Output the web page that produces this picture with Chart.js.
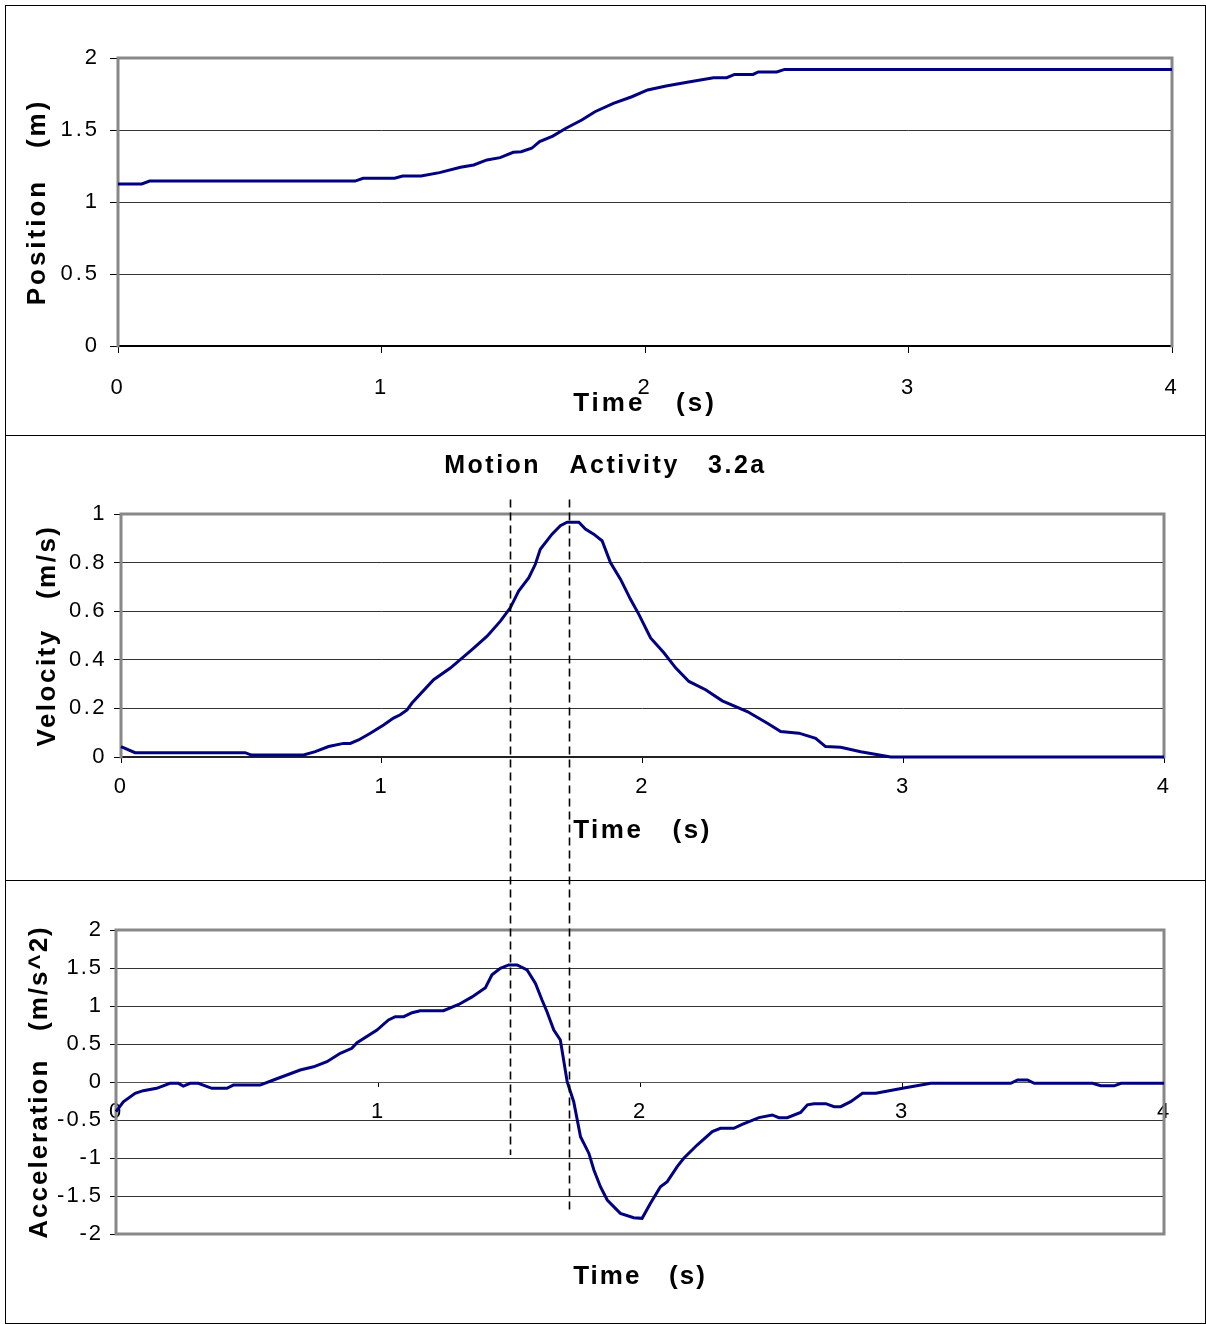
<!DOCTYPE html>
<html>
<head>
<meta charset="utf-8">
<title>Motion Activity 3.2a</title>
<script src="https://cdn.jsdelivr.net/npm/chart.js@4.4.1/dist/chart.umd.min.js"></script>
<style>
  body { margin: 0; background: #fff; }
  #page { position: relative; width: 1206px; height: 1324px; }
  .panel { position: absolute; left: 5px; width: 1201px; border: 1px solid #000; box-sizing: border-box; }
  .panel canvas { display: block; }
  #p1 { top: 5px; height: 431px; }
  #p2 { top: 435px; height: 446px; }
  #p3 { top: 880px; height: 444px; }
  #marks { position: absolute; left: 0; top: 0; pointer-events: none; }
</style>
</head>
<body>
<div id="page">
  <div class="panel" id="p1"><canvas id="positionChart" width="1199" height="429"></canvas></div>
  <div class="panel" id="p2"><canvas id="velocityChart" width="1199" height="444"></canvas></div>
  <div class="panel" id="p3"><canvas id="accelChart" width="1199" height="442"></canvas></div>
  <canvas id="marks" width="1206" height="1324"></canvas>
</div>
<script>
// position (m) against time (s)
const posTime = [0, 0.09, 0.12, 0.90, 0.93, 1.05, 1.08, 1.15, 1.22, 1.30, 1.35, 1.40, 1.45, 1.50, 1.53, 1.57,
    1.60, 1.65, 1.70, 1.76, 1.81, 1.88, 1.95, 2.01, 2.08, 2.16, 2.26, 2.31, 2.34, 2.41, 2.43, 2.50, 2.53, 4.00];
const posValue = [1.125, 1.125, 1.145, 1.145, 1.165, 1.165, 1.18, 1.18, 1.204, 1.241, 1.257, 1.292, 1.308, 1.345, 1.349, 1.373,
    1.419, 1.458, 1.512, 1.569, 1.627, 1.685, 1.731, 1.778, 1.806, 1.831, 1.863, 1.863, 1.886, 1.886, 1.903, 1.903, 1.921, 1.921];

// velocity (m/s)
const velTime = [0, 0.054, 0.476, 0.50, 0.70, 0.745, 0.796, 0.853, 0.879, 0.911, 0.956, 1.007, 1.045, 1.071, 1.097,
    1.116, 1.199, 1.263, 1.346, 1.404, 1.455, 1.493, 1.525, 1.564, 1.589, 1.608, 1.653, 1.685, 1.711, 1.756,
    1.781, 1.813, 1.845, 1.877, 1.916, 1.954, 1.986, 2.031, 2.082, 2.127, 2.178, 2.242, 2.306, 2.402, 2.479,
    2.530, 2.600, 2.664, 2.702, 2.760, 2.837, 2.952, 4.0];
const velValue = [0.043, 0.018, 0.018, 0.008, 0.008, 0.022, 0.043, 0.056, 0.056, 0.07, 0.098, 0.132, 0.16, 0.174, 0.194,
    0.222, 0.318, 0.366, 0.442, 0.497, 0.559, 0.614, 0.683, 0.738, 0.793, 0.855, 0.917, 0.952, 0.966, 0.966,
    0.938, 0.917, 0.89, 0.80, 0.731, 0.649, 0.587, 0.49, 0.429, 0.367, 0.311, 0.277, 0.231, 0.187, 0.139,
    0.105, 0.098, 0.077, 0.043, 0.04, 0.022, 0, 0];

// acceleration (m/s^2)
const accTime = [0, 0.028, 0.073, 0.104, 0.155, 0.206, 0.238, 0.257, 0.283, 0.314, 0.366, 0.423, 0.448, 0.55, 0.601,
    0.703, 0.754, 0.805, 0.856, 0.9, 0.92, 0.996, 1.04, 1.066, 1.098, 1.13, 1.161, 1.25, 1.308, 1.359,
    1.41, 1.435, 1.467, 1.499, 1.531, 1.569, 1.601, 1.626, 1.645, 1.671, 1.696, 1.722, 1.747, 1.773, 1.805,
    1.824, 1.849, 1.875, 1.925, 1.976, 2.008, 2.04, 2.078, 2.104, 2.142, 2.167, 2.218, 2.276, 2.307, 2.358,
    2.39, 2.454, 2.505, 2.53, 2.562, 2.613, 2.639, 2.664, 2.709, 2.741, 2.766, 2.804, 2.849, 2.9, 3.002,
    3.11, 3.415, 3.441, 3.479, 3.505, 3.727, 3.759, 3.81, 3.836, 4.0];
const accValue = [-0.39, -0.26, -0.149, -0.114, -0.083, -0.018, -0.018, -0.053, -0.018, -0.018, -0.083, -0.083, -0.04, -0.04, 0.026,
    0.158, 0.2, 0.267, 0.378, 0.443, 0.518, 0.684, 0.816, 0.86, 0.86, 0.912, 0.938, 0.938, 1.02, 1.12,
    1.24, 1.41, 1.496, 1.54, 1.54, 1.474, 1.298, 1.079, 0.925, 0.684, 0.553, 0.004, -0.259, -0.72, -0.94,
    -1.158, -1.378, -1.553, -1.728, -1.785, -1.794, -1.596, -1.378, -1.311, -1.114, -1.004, -0.829, -0.653, -0.61, -0.61,
    -0.557, -0.469, -0.434, -0.469, -0.469, -0.4, -0.30, -0.285, -0.285, -0.325, -0.325, -0.259, -0.149, -0.149, -0.083,
    -0.018, -0.018, 0.026, 0.026, -0.018, -0.018, -0.05, -0.05, -0.018, -0.018];

// dashed markers: times, where they start (velocity) and stop (acceleration)
const markTimes = [1.49, 1.72];
const markStart = 1.06;
const markEnds = [-0.96, -1.72];

const NAVY = '#000080';

Chart.defaults.font.family = '"Liberation Sans", Arial, sans-serif';
Chart.defaults.font.size = 22;
Chart.defaults.color = '#000';

const toPoints = (xs, ys) => xs.map((x, i) => ({x: x, y: ys[i]}));

// "1" and "0.5" rather than "1.0" and "0.50"
const plainNumber = (v) => String(Number(v.toFixed(2)));

// canvas letter spacing, the old spreadsheet text is spaced out
const textSpacing = {
    id: 'textSpacing',
    beforeDraw(chart, args, opts) {
        chart.ctx.letterSpacing = (opts.px || 0) + 'px';
    }
};

// grey frame round the plot area
const plotFrame = {
    id: 'plotFrame',
    beforeDatasetsDraw(chart, args, opts) {
        const {ctx, chartArea: a} = chart;
        const sides = opts.sides || 'tlr';
        ctx.save();
        ctx.strokeStyle = opts.color || '#888';
        ctx.lineWidth = opts.width || 3;
        ctx.lineCap = 'square';
        ctx.beginPath();
        if (sides.includes('t')) { ctx.moveTo(a.left, a.top); ctx.lineTo(a.right, a.top); }
        if (sides.includes('r')) { ctx.moveTo(a.right, a.top); ctx.lineTo(a.right, a.bottom); }
        if (sides.includes('l')) { ctx.moveTo(a.left, a.top); ctx.lineTo(a.left, a.bottom); }
        if (sides.includes('b')) { ctx.moveTo(a.left, a.bottom); ctx.lineTo(a.right, a.bottom); }
        ctx.stroke();
        ctx.restore();
    }
};

const titleFont = {size: 26, weight: 'bold'};

function lineSet(xs, ys, width) {
    return {
        data: toPoints(xs, ys),
        borderColor: NAVY,
        borderWidth: width,
        pointRadius: 0,
        tension: 0,
        clip: 4
    };
}

const positionChart = new Chart(document.getElementById('positionChart'), {
    type: 'line',
    data: {datasets: [lineSet(posTime, posValue, 3)]},
    options: {
        responsive: false,
        animation: false,
        events: [],
        layout: {padding: {top: 52, right: 33, left: 0, bottom: 0}},
        plugins: {
            legend: {display: false},
            tooltip: {enabled: false},
            textSpacing: {px: 3},
            plotFrame: {sides: 'tlr', color: '#888', width: 3}
        },
        scales: {
            x: {
                type: 'linear', min: 0, max: 4,
                afterFit: (s) => { s.height = 89; },
                ticks: {stepSize: 1, padding: 22, maxRotation: 0, callback: plainNumber},
                grid: {drawOnChartArea: false, tickLength: 7, tickColor: '#000'},
                border: {color: '#000', width: 2},
                title: {display: true, text: 'Time   (s)', font: titleFont, color: '#000', padding: {top: 0, bottom: 16}}
            },
            y: {
                min: 0, max: 2,
                afterFit: (s) => { s.width = 112; },
                ticks: {stepSize: 0.5, padding: 10, callback: plainNumber},
                grid: {color: '#333', tickLength: 8, tickColor: '#000'},
                border: {display: false},
                title: {display: true, text: 'Position   (m)', font: titleFont, color: '#000', padding: {top: 16, bottom: 0}}
            }
        }
    },
    plugins: [textSpacing, plotFrame]
});

const velocityChart = new Chart(document.getElementById('velocityChart'), {
    type: 'line',
    data: {datasets: [lineSet(velTime, velValue, 3)]},
    options: {
        responsive: false,
        animation: false,
        events: [],
        layout: {padding: {top: 0, right: 0, left: 0, bottom: 0}},
        plugins: {
            legend: {display: false},
            tooltip: {enabled: false},
            title: {display: true, text: 'Motion   Activity   3.2a', font: {size: 25, weight: 'bold'}, color: '#000', padding: {top: 15, bottom: 33}},
            textSpacing: {px: 2.5},
            plotFrame: {sides: 'tlr', color: '#888', width: 3}
        },
        scales: {
            x: {
                type: 'linear', min: 0, max: 4,
                afterFit: (s) => { s.height = 123; },
                ticks: {stepSize: 1, padding: 11, maxRotation: 0, callback: plainNumber},
                grid: {drawOnChartArea: false, tickLength: 6, tickColor: '#000'},
                border: {color: '#222', width: 2},
                title: {display: true, text: 'Time   (s)', font: titleFont, color: '#000', padding: {top: 0, bottom: 34}}
            },
            y: {
                min: 0, max: 1,
                afterFit: (s) => { s.width = 115; },
                ticks: {stepSize: 0.2, padding: 7, callback: plainNumber},
                grid: {color: '#333', tickLength: 7, tickColor: '#000'},
                border: {display: false},
                title: {display: true, text: 'Velocity   (m/s)', font: titleFont, color: '#000', padding: {top: 26, bottom: 0}}
            },
            // empty right-hand margin, keeps the chart title centred on the panel
            gutter: {
                type: 'linear', position: 'right', min: 0, max: 1,
                afterFit: (s) => { s.width = 41; },
                ticks: {display: false},
                grid: {display: false},
                border: {display: false}
            }
        }
    },
    plugins: [textSpacing, plotFrame]
});

const accelChart = new Chart(document.getElementById('accelChart'), {
    type: 'line',
    data: {datasets: [lineSet(accTime, accValue, 3)]},
    options: {
        responsive: false,
        animation: false,
        events: [],
        layout: {padding: {top: 49, right: 41, left: 0, bottom: 89}},
        plugins: {
            legend: {display: false},
            tooltip: {enabled: false},
            textSpacing: {px: 2},
            plotFrame: {sides: 'tlrb', color: '#888', width: 3}
        },
        scales: {
            x: {
                type: 'linear', min: 0, max: 4,
                position: {y: 0},
                // axis sits on the zero line; its height sets where the title lands
                afterFit: (s) => { s.height = 210; },
                ticks: {stepSize: 1, padding: 13, maxRotation: 0, callback: plainNumber},
                grid: {drawOnChartArea: false, tickLength: 4, tickColor: '#000'},
                border: {color: '#555', width: 1},
                title: {display: true, text: 'Time   (s)', font: titleFont, color: '#000', padding: {top: 0, bottom: 0}}
            },
            y: {
                min: -2, max: 2,
                afterFit: (s) => { s.width = 110; },
                ticks: {stepSize: 0.5, padding: 7, callback: plainNumber},
                grid: {color: '#333', tickLength: 6, tickColor: '#000'},
                border: {display: false},
                title: {display: true, text: 'Acceleration   (m/s^2)', font: titleFont, color: '#000', padding: {top: 18, bottom: 0}}
            }
        }
    },
    plugins: [textSpacing, plotFrame]
});

// dashed verticals running from the velocity plot down into the acceleration plot
const velRect = document.getElementById('velocityChart').getBoundingClientRect();
const accRect = document.getElementById('accelChart').getBoundingClientRect();
const mctx = document.getElementById('marks').getContext('2d');
mctx.strokeStyle = '#000';
mctx.lineWidth = 1.6;
mctx.setLineDash([8, 5]);
markTimes.forEach((t, i) => {
    const x = Math.round(velRect.left + velocityChart.scales.x.getPixelForValue(t)) + 0.5;
    const y0 = velRect.top + velocityChart.scales.y.getPixelForValue(markStart);
    const y1 = accRect.top + accelChart.scales.y.getPixelForValue(markEnds[i]);
    mctx.beginPath();
    mctx.moveTo(x, y0);
    mctx.lineTo(x, y1);
    mctx.stroke();
});
</script>
</body>
</html>
